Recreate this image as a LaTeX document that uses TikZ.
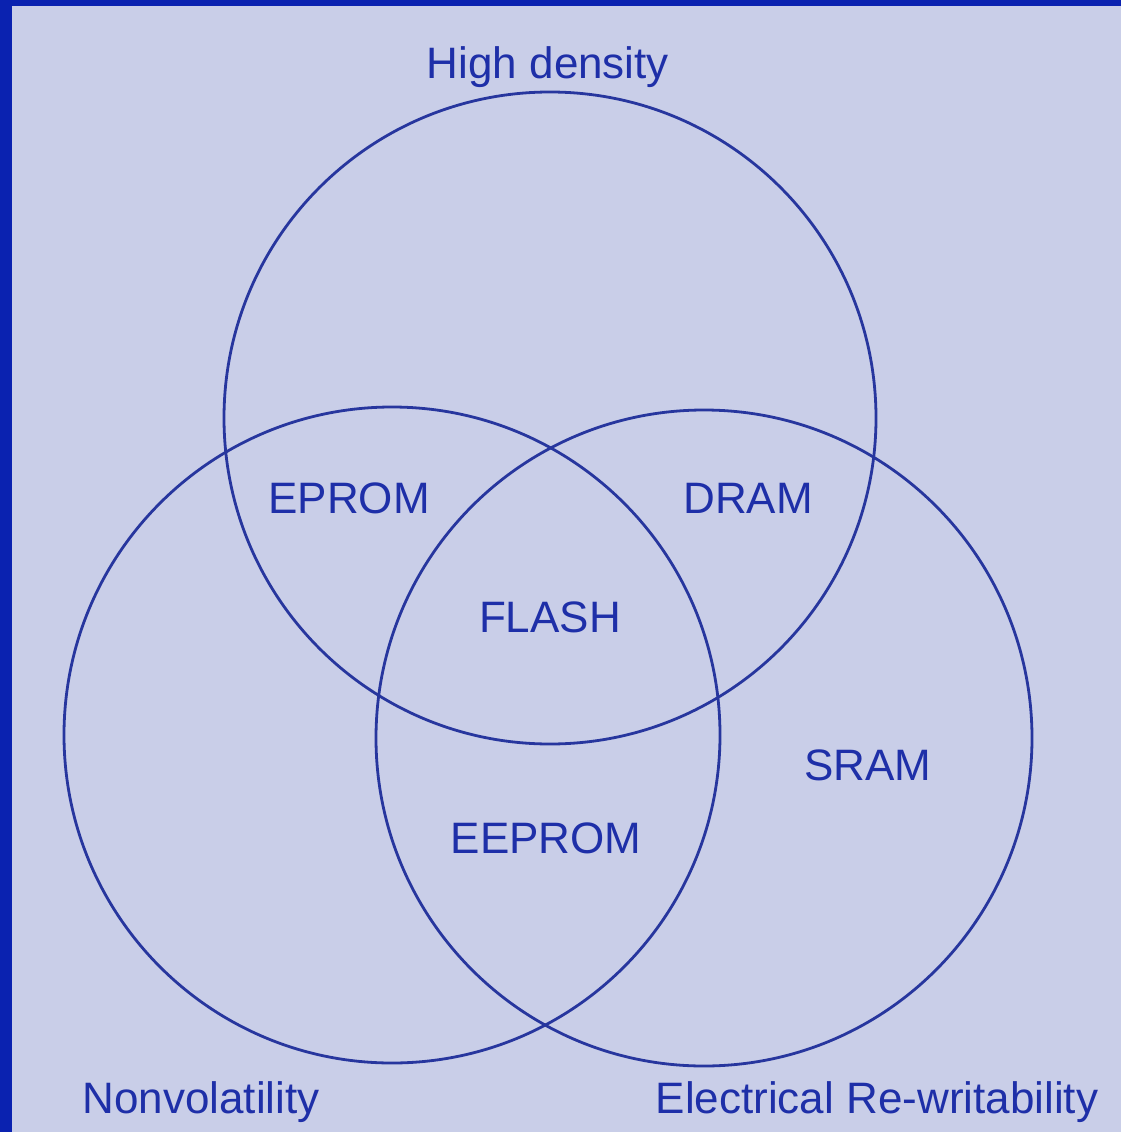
\documentclass[tikz,border=0pt]{standalone}
\usepackage{fontspec}
\setmainfont{Liberation Sans}
\definecolor{bgc}{HTML}{C9CEE8}
\definecolor{framec}{HTML}{0A22B0}
\definecolor{inkc}{HTML}{27369E}
\definecolor{txtc}{HTML}{1E2FA8}
\tikzset{
  setc/.style={circle, draw=inkc, line width=2.8pt, inner sep=0pt, minimum size=#1},
  lbl/.style={text=txtc, anchor=base, inner sep=0pt, font=\fontsize{44}{52}\selectfont}
}
\begin{document}
\begin{tikzpicture}[x=1pt,y=-1pt]
\fill[bgc] (0,0) rectangle (1121,1132);
\useasboundingbox (0,0) rectangle (1121,1132);
\fill[framec] (0,0) rectangle (1121,6);
\fill[framec] (0,0) rectangle (12,1132);
\node[setc=652pt] (hd) at (550,418) {};
\node[setc=656pt] (nv) at (392,735) {};
\node[setc=656pt] (er) at (704,738) {};
\node[lbl] (thd) at (548,78) {High density};
\node[lbl] (tep) at (349,513) {EPROM};
\node[lbl] (tdr) at (748,513) {DRAM};
\node[lbl] (tfl) at (550,632) {FLASH};
\node[lbl] (tsr) at (868,780) {SRAM};
\node[lbl] (tee) at (546,853) {EEPROM};
\node[lbl] (tnv) at (201,1113) {Nonvolatility};
\node[lbl] (tel) at (877,1113) {Electrical Re-writability};
\end{tikzpicture}
\end{document}
